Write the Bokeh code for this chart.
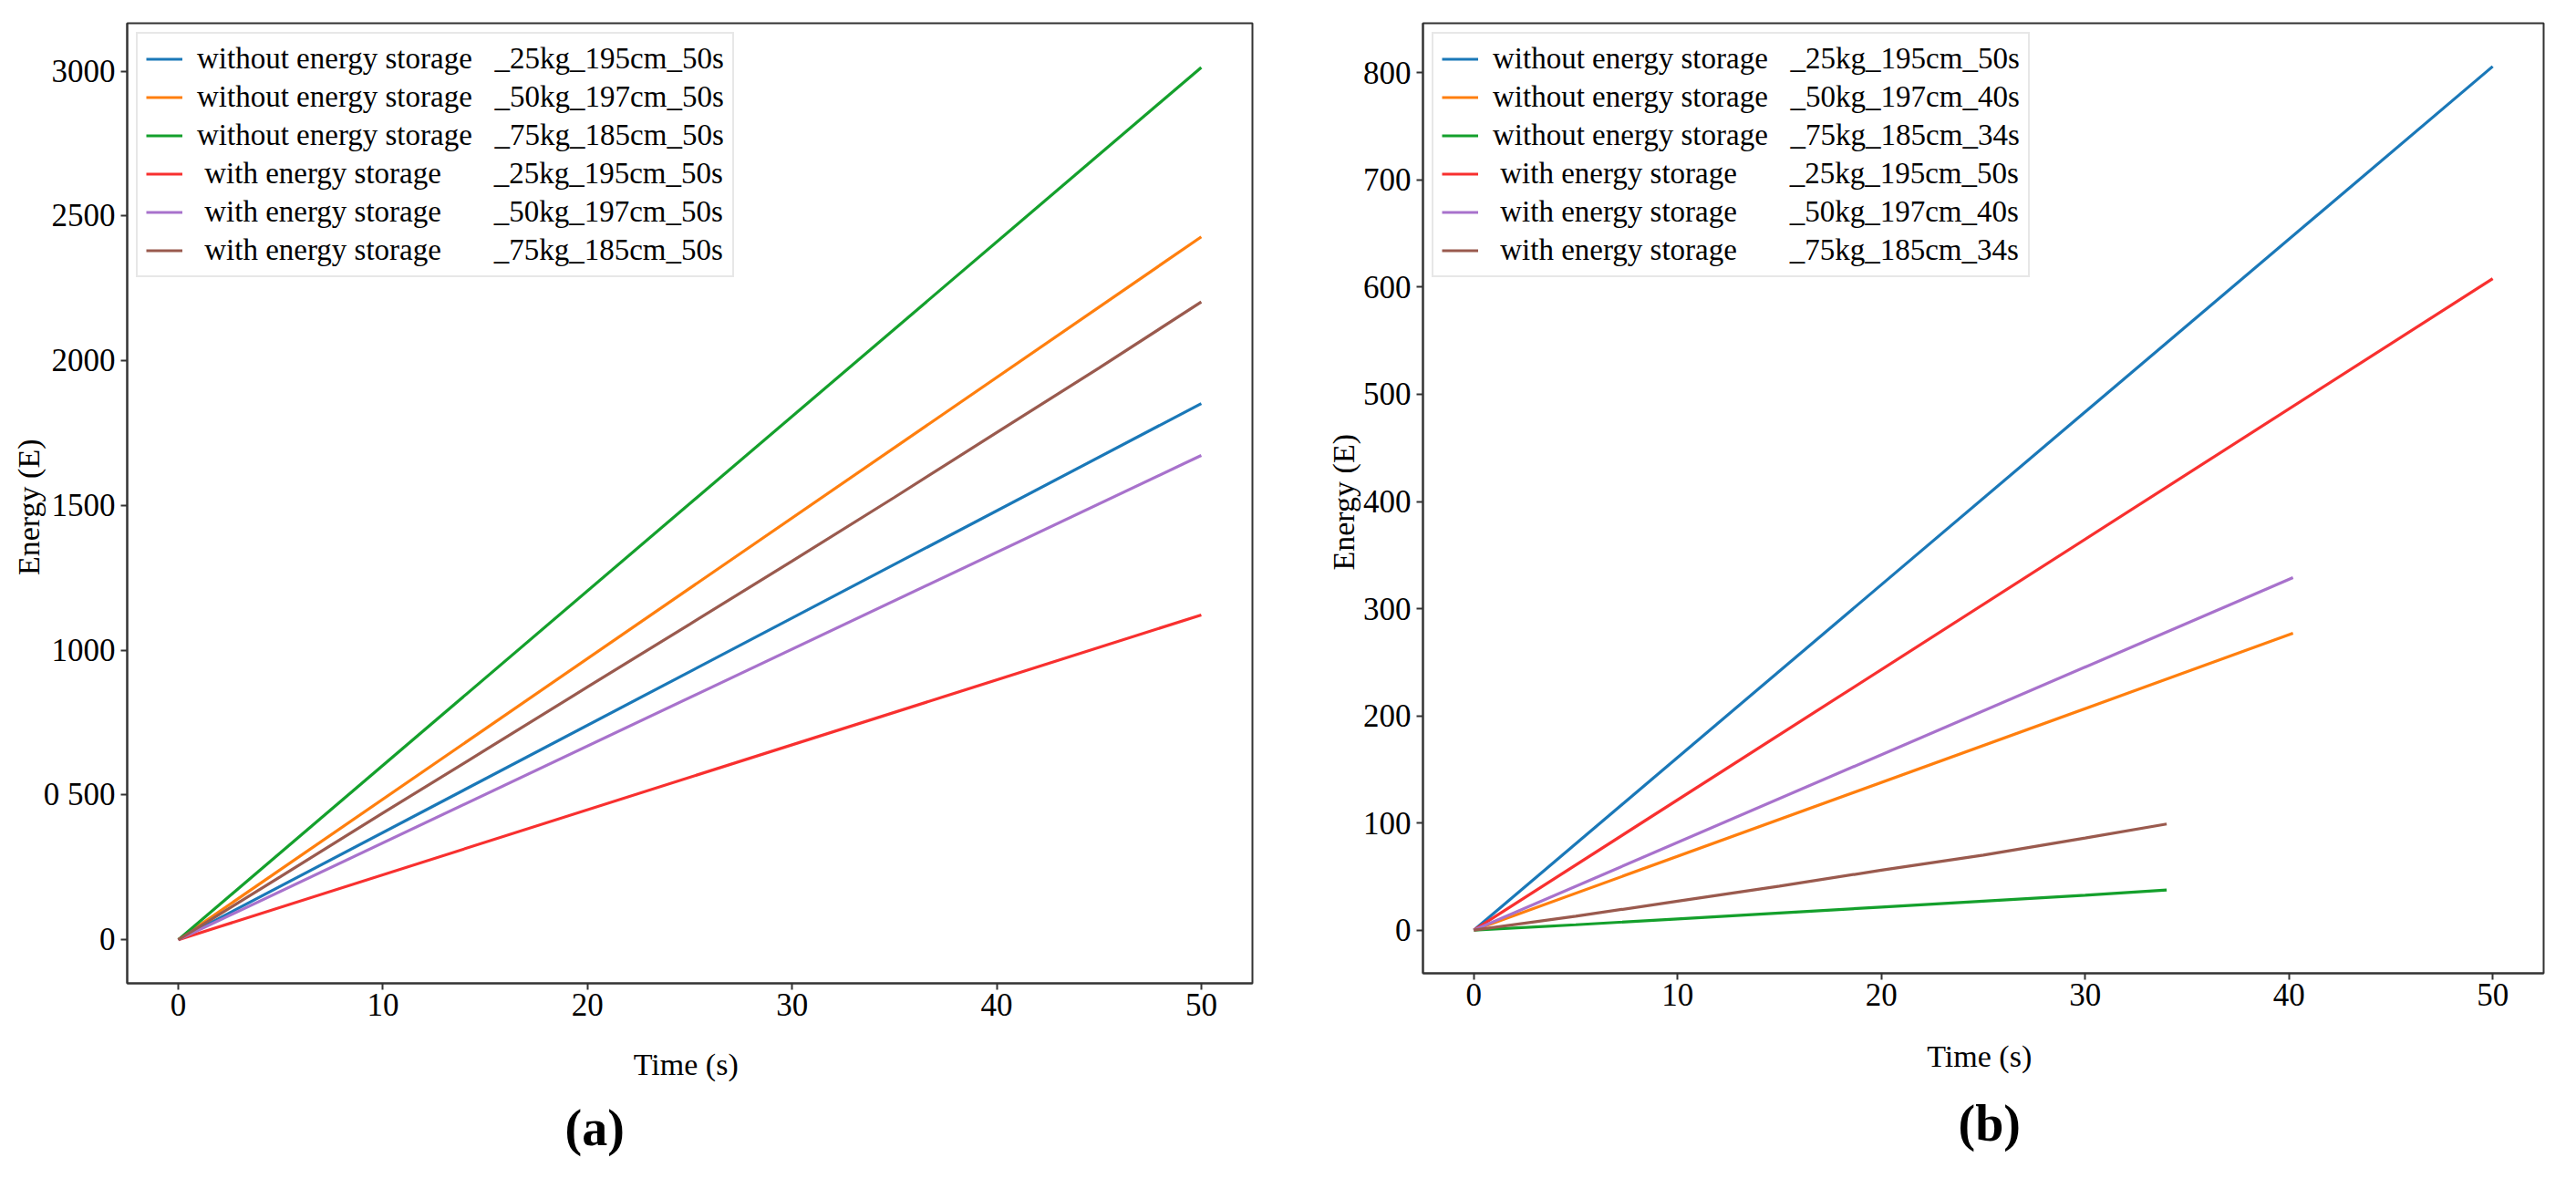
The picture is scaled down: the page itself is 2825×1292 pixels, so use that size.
from bokeh.plotting import figure
from bokeh.layouts import row
from bokeh.models import Range1d, FixedTicker, Title
from bokeh.embed import file_html
from bokeh.resources import INLINE

FONT = "Liberation Serif"

# ---------------- data ----------------
series_names_a = [
    "without energy storage   _25kg_195cm_50s",
    "without energy storage   _50kg_197cm_50s",
    "without energy storage   _75kg_185cm_50s",
    " with energy storage       _25kg_195cm_50s",
    " with energy storage       _50kg_197cm_50s",
    " with energy storage       _75kg_185cm_50s",
]
series_names_b = [
    "without energy storage   _25kg_195cm_50s",
    "without energy storage   _50kg_197cm_40s",
    "without energy storage   _75kg_185cm_34s",
    " with energy storage       _25kg_195cm_50s",
    " with energy storage       _50kg_197cm_40s",
    " with energy storage       _75kg_185cm_34s",
]
colors = ["#1a78b8", "#ff7f0e", "#14a02c", "#f8302f", "#a872cc", "#9a5a4e"]

# panel (a): time (s) and energy (E)
a_t_without_25 = [0, 50]
a_e_without_25 = [0, 1852]
a_t_without_50 = [0, 50]
a_e_without_50 = [0, 2428]
a_t_without_75 = [0, 50]
a_e_without_75 = [0, 3013]
a_t_with_25 = [0, 50]
a_e_with_25 = [0, 1122]
a_t_with_50 = [0, 50]
a_e_with_50 = [0, 1673]
a_t_with_75 = [0, 5, 10, 15, 20, 25, 30, 35, 40, 45, 50]
a_e_with_75 = [0, 218, 438, 655, 873, 1090, 1308, 1528, 1752, 1975, 2203]

# panel (b)
b_t_without_25 = [0, 50]
b_e_without_25 = [0, 806]
b_t_without_50 = [0, 40.2]
b_e_without_50 = [0, 277]
b_t_without_75 = [0, 5, 10, 15, 20, 25, 30, 34]
b_e_without_75 = [0, 5, 10.5, 16, 21.5, 27, 32.5, 37.5]
b_t_with_25 = [0, 50]
b_e_with_25 = [0, 608]
b_t_with_50 = [0, 40.2]
b_e_with_50 = [0, 329]
b_t_with_75 = [0, 5, 10, 15, 20, 25, 30, 34]
b_e_with_75 = [0, 13, 27, 41, 56, 70, 86, 99]

ticks_x = [0, 10, 20, 30, 40, 50]
ticks_y_a = [0, 500, 1000, 1500, 2000, 2500, 3000]
tick_labels_y_a = {0: "0", 500: "0 500", 1000: "1000", 1500: "1500",
                   2000: "2000", 2500: "2500", 3000: "3000"}
ticks_y_b = [0, 100, 200, 300, 400, 500, 600, 700, 800]

x_label = "Time  (s)"
y_label = "Energy  (E)"


def make_panel(series, names, yr, yticks, ylabels, tag, tag_offset, tag_stand,
               fw, fh, bl, br, bt, bb, xstand, ystand):
    p = figure(frame_width=fw, frame_height=fh, min_border_left=bl,
               min_border_right=br, min_border_top=bt, min_border_bottom=bb,
               x_range=Range1d(-2.5, 52.5), y_range=Range1d(*yr),
               output_backend="svg", toolbar_location=None,
               background_fill_color="white", border_fill_color="white")
    for (t, e), name, c in zip(series, names, colors):
        p.line(t, e, line_color=c, line_width=3.2, legend_label=name)

    p.grid.visible = False
    p.outline_line_color = "#333333"
    p.outline_line_width = 2
    for ax in (p.xaxis[0], p.yaxis[0]):
        ax.axis_line_color = "#333333"
        ax.axis_line_width = 2
        ax.major_tick_line_color = "#333333"
        ax.major_tick_line_width = 2
        ax.major_tick_out = 7
        ax.major_tick_in = 0
        ax.minor_tick_line_color = None
        ax.major_label_text_font = FONT
        ax.major_label_text_font_size = "35px"
        ax.major_label_text_color = "black"
        ax.axis_label_text_font = FONT
        ax.axis_label_text_font_size = "34px"
        ax.axis_label_text_font_style = "normal"
        ax.axis_label_text_color = "black"
    p.xaxis.ticker = FixedTicker(ticks=ticks_x)
    p.yaxis.ticker = FixedTicker(ticks=yticks)
    if ylabels:
        p.yaxis.major_label_overrides = ylabels
    p.xaxis.axis_label = x_label
    p.yaxis.axis_label = y_label
    p.xaxis.major_label_standoff = 4
    p.yaxis.major_label_standoff = 6
    p.xaxis.axis_label_standoff = xstand
    p.yaxis.axis_label_standoff = ystand

    lg = p.legend[0]
    lg.location = "top_left"
    lg.margin = 10
    lg.padding = 9
    lg.spacing = 5
    lg.label_height = 37
    lg.glyph_height = 37
    lg.glyph_width = 40
    lg.label_standoff = 16
    lg.label_text_font = FONT
    lg.label_text_font_size = "33px"
    lg.label_text_color = "black"
    lg.border_line_color = "#d0d0d0"
    lg.border_line_width = 2
    lg.background_fill_alpha = 0.85

    p.add_layout(Title(text=tag, align="left", offset=tag_offset,
                       standoff=tag_stand, text_font=FONT,
                       text_font_size="56px", text_font_style="bold",
                       text_color="black"),
                 "below")
    return p


series_a = [(a_t_without_25, a_e_without_25), (a_t_without_50, a_e_without_50),
            (a_t_without_75, a_e_without_75), (a_t_with_25, a_e_with_25),
            (a_t_with_50, a_e_with_50), (a_t_with_75, a_e_with_75)]
series_b = [(b_t_without_25, b_e_without_25), (b_t_without_50, b_e_without_50),
            (b_t_without_75, b_e_without_75), (b_t_with_25, b_e_with_25),
            (b_t_with_50, b_e_with_50), (b_t_with_75, b_e_with_75)]

pa = make_panel(series_a, series_names_a, (-150.7, 3165.7), ticks_y_a,
                tick_labels_y_a, "(a)", 480, 30,
                1234, 1053, 139, 47, 25, 198, 32, -5)
pb = make_panel(series_b, series_names_b, (-40.3, 846.3), ticks_y_b,
                None, "(b)", 587, 38,
                1229, 1042, 140, 20, 24, 210, 34, 0)

layout = row(pa, pb)
open("out.html", "w").write(file_html(layout, INLINE))
